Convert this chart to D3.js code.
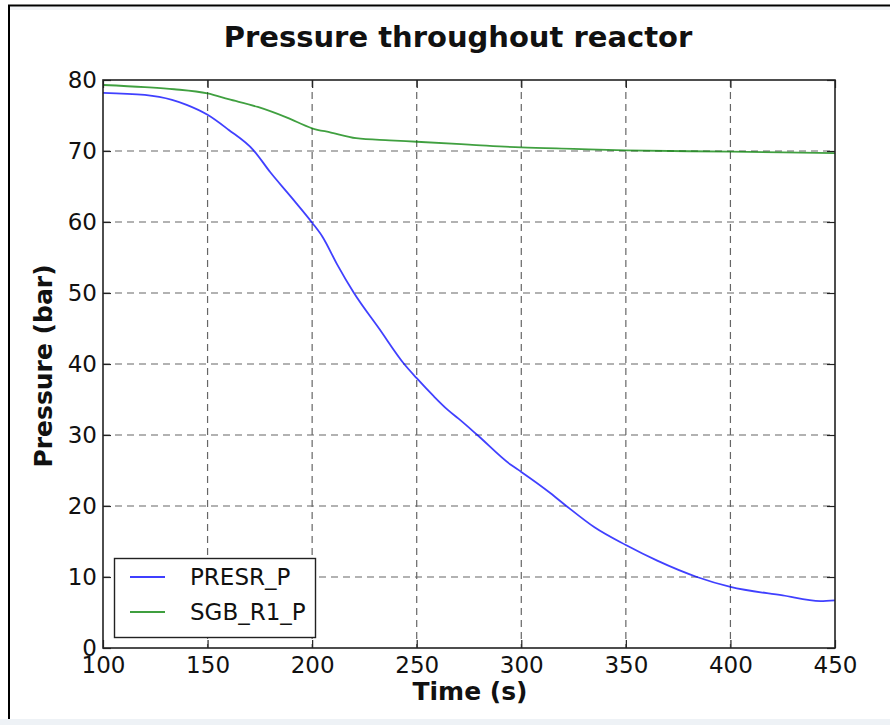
<!DOCTYPE html>
<html>
<head>
<meta charset="utf-8">
<script src="https://cdnjs.cloudflare.com/ajax/libs/d3/7.8.5/d3.min.js"></script>
<style>
  body { margin: 0; background: #fff; }
  text { font-family: "DejaVu Sans", sans-serif; fill: #111; }
</style>
</head>
<body>
<div id="chart"></div>
<script>
var width = 890,
    height = 725;

// time (s) and pressure (bar)
var presrTime  = [100, 120, 133, 140, 150, 160, 172, 180, 190, 200, 205, 212, 220, 232, 244, 250, 258, 265, 270, 279, 295, 300, 314, 322, 335, 350, 365, 384, 400, 425, 443, 450];
var presrValue = [78.2, 77.9, 77.2, 76.5, 75.1, 73.0, 70.1, 67.0, 63.5, 59.9, 57.9, 54.0, 50.0, 45.0, 40.0, 38.0, 35.5, 33.5, 32.3, 30.0, 25.8, 24.8, 21.8, 19.9, 17.0, 14.5, 12.3, 10.0, 8.6, 7.4, 6.6, 6.7];

var sgbTime  = [100, 120, 134, 150, 160, 174, 188, 200, 209, 221, 237, 250, 275, 300, 325, 350, 400, 450];
var sgbValue = [79.3, 79.0, 78.7, 78.1, 77.3, 76.2, 74.7, 73.2, 72.6, 71.8, 71.5, 71.3, 70.9, 70.5, 70.3, 70.1, 69.9, 69.7];

var xTicks = [100, 150, 200, 250, 300, 350, 400, 450];
var yTicks = [0, 10, 20, 30, 40, 50, 60, 70, 80];

var seriesNames = ["PRESR_P", "SGB_R1_P"];
var seriesColors = ["#0000ff", "#008000"];

var plotLeft = 103, plotRight = 835, plotTop = 80, plotBottom = 648;

var svg = d3.select("#chart").append("svg")
    .attr("width", width)
    .attr("height", height);

// picture frame
svg.append("rect").attr("x", 0).attr("y", 719).attr("width", width).attr("height", 6).style("fill", "#eef2f6");
svg.append("rect").attr("x", 10).attr("y", 7).attr("width", width - 10).attr("height", 3).style("fill", "#f2f4f7");
svg.append("line").attr("x1", 8).attr("x2", width).attr("y1", 5.5).attr("y2", 5.5)
    .style("stroke", "#000").style("stroke-width", 2);
svg.append("line").attr("x1", 9).attr("x2", 9).attr("y1", 5).attr("y2", 719)
    .style("stroke", "#000").style("stroke-width", 2);

var x = d3.scaleLinear().domain([100, 450]).range([plotLeft, plotRight]);
var y = d3.scaleLinear().domain([0, 80]).range([plotBottom, plotTop]);

// grid
var grid = svg.append("g");
grid.selectAll(".gx").data(xTicks.slice(1, -1)).enter().append("line")
    .attr("x1", d => x(d)).attr("x2", d => x(d))
    .attr("y1", plotTop).attr("y2", plotBottom)
    .style("stroke", "#666").style("stroke-width", 1.2).style("stroke-dasharray", "7,5");
grid.selectAll(".gy").data(yTicks.slice(1, -1)).enter().append("line")
    .attr("x1", plotLeft).attr("x2", plotRight)
    .attr("y1", d => y(d)).attr("y2", d => y(d))
    .style("stroke", "#666").style("stroke-width", 1.2).style("stroke-dasharray", "7,5");

// lines
var line = d3.line()
    .x(d => x(d[0]))
    .y(d => y(d[1]))
    .curve(d3.curveMonotoneX);

var series = [d3.zip(presrTime, presrValue), d3.zip(sgbTime, sgbValue)];

var plot = svg.append("g");
series.forEach(function(s, i) {
  plot.append("path")
    .datum(s)
    .attr("d", line)
    .style("fill", "none")
    .style("stroke", seriesColors[i])
    .style("stroke-width", 1.8)
    .style("opacity", 0.75);
});

// axes: inward ticks on all four sides
var tick = 8;
svg.append("g").attr("transform", "translate(0," + plotBottom + ")")
  .call(d3.axisBottom(x).tickValues(xTicks).tickSize(-tick).tickPadding(9))
  .call(g => g.select(".domain").remove());
svg.append("g").attr("transform", "translate(0," + plotTop + ")")
  .call(d3.axisTop(x).tickValues(xTicks).tickSize(-tick).tickFormat(""))
  .call(g => g.select(".domain").remove());
svg.append("g").attr("transform", "translate(" + plotLeft + ",0)")
  .call(d3.axisLeft(y).tickValues(yTicks).tickSize(-tick).tickPadding(6))
  .call(g => g.select(".domain").remove());
svg.append("g").attr("transform", "translate(" + plotRight + ",0)")
  .call(d3.axisRight(y).tickValues(yTicks).tickSize(-tick).tickFormat(""))
  .call(g => g.select(".domain").remove());

svg.selectAll(".tick line").style("stroke", "#222").style("stroke-width", 1.2);
svg.selectAll(".tick text")
  .style("font-family", "DejaVu Sans, sans-serif")
  .style("font-size", "23px")
  .style("fill", "#111");

svg.append("rect")
  .attr("x", plotLeft).attr("y", plotTop)
  .attr("width", plotRight - plotLeft).attr("height", plotBottom - plotTop)
  .style("fill", "none").style("stroke", "#222").style("stroke-width", 1.6);

// titles
svg.append("text")
  .attr("x", 458).attr("y", 47)
  .attr("text-anchor", "middle")
  .style("font-size", "29px").style("font-weight", "bold")
  .text("Pressure throughout reactor");

svg.append("text")
  .attr("x", 470).attr("y", 700)
  .attr("text-anchor", "middle")
  .style("font-size", "25px").style("font-weight", "bold")
  .text("Time (s)");

svg.append("text")
  .attr("transform", "translate(52,366) rotate(-90)")
  .attr("text-anchor", "middle")
  .style("font-size", "25px").style("font-weight", "bold")
  .text("Pressure (bar)");

// legend
var legend = svg.append("g");
legend.append("rect")
  .attr("x", 114.5).attr("y", 558.5).attr("width", 201).attr("height", 79)
  .style("fill", "#fff").style("stroke", "#222").style("stroke-width", 1.4);
seriesNames.forEach(function(name, i) {
  var ly = 577 + i * 35;
  legend.append("line")
    .attr("x1", 130).attr("x2", 165).attr("y1", ly).attr("y2", ly)
    .style("stroke", seriesColors[i]).style("stroke-width", 1.8).style("opacity", 0.75);
  legend.append("text")
    .attr("x", 190).attr("y", ly + 8)
    .style("font-size", "23px")
    .text(name);
});
</script>
</body>
</html>
